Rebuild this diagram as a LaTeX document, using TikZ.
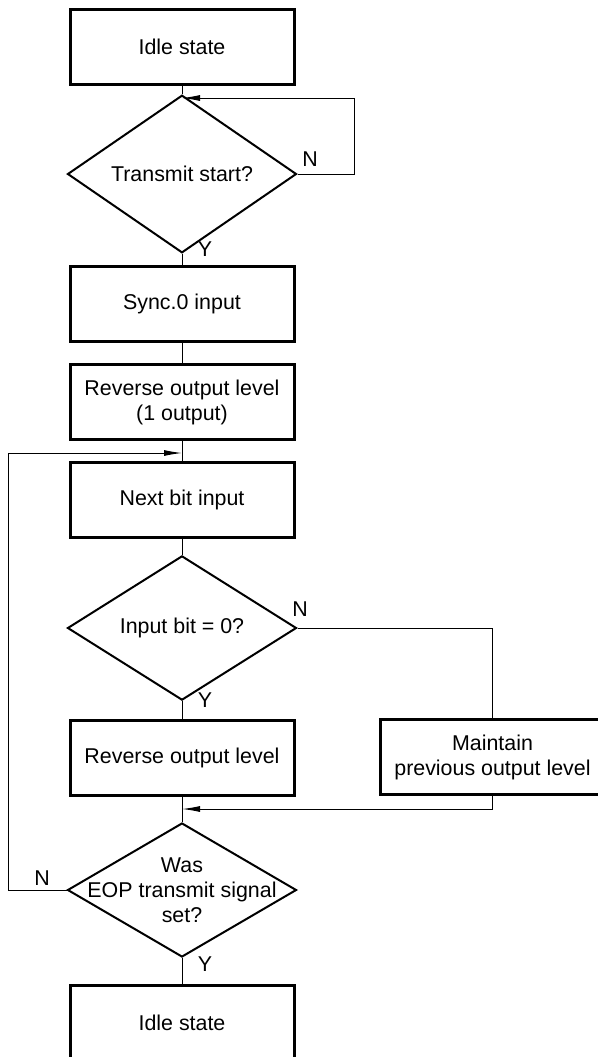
\documentclass[tikz,border=0pt]{standalone}
\usepackage{fontspec}
\setmainfont{Liberation Sans}
\usetikzlibrary{shapes.geometric,arrows.meta}
\begin{document}
\begin{tikzpicture}[x=0.5pt, y=-0.5pt, >={Latex[length=9pt,width=3pt]},
		every node/.style={font=\fontsize{10.7}{12.5}\selectfont},
		box/.style={draw, line width=1.5pt, minimum width=112pt, minimum height=37.5pt, align=center, inner sep=0pt},
		decision/.style={draw, diamond, line width=1pt, minimum width=114.5pt, minimum height=67pt, inner sep=0pt, align=center},
		link/.style={line width=0.5pt}]
		\clip (0,0) rectangle (598,1057);
		\node[box] (idle1) at (182,46.5) {Idle state};
		\node[decision] (start) at (182,174) {Transmit start?};
		\node[box] (sync) at (182,303.5) {Sync.0 input};
		\node[box] (rev1) at (182,402) {Reverse output level\\(1 output)};
		\node[box] (next) at (182,500) {Next bit input};
		\node[decision] (bit) at (182,628) {Input bit = 0?};
		\node[box] (rev) at (182,757.5) {Reverse output level};
		\node[box] (keep) at (492.5,757) {Maintain\\previous output level};
		\node[decision, label={[align=center]center:Was\\EOP transmit signal\\set?}] (eop) at (182,890) {};
		\node[box] (idle2) at (182,1022.5) {Idle state};
		\node (n1) at (310,159) {N};
		\node (y1) at (205,249) {Y};
		\node (n2) at (300,609) {N};
		\node (y2) at (205,700) {Y};
		\node (n3) at (42,878) {N};
		\node (y3) at (205,964) {Y};
		\coordinate (j1) at (182,98);
		\coordinate (j2) at (182,453);
		\coordinate (j3) at (182,809);
		\draw[link] (idle1) -- (start);
		\draw[link,->] (start.east) -- ++(57,0) |- (j1);
		\draw[link] (start) -- (sync);
		\draw[link] (sync) -- (rev1);
		\draw[link] (rev1) -- (next);
		\draw[link] (next) -- (bit);
		\draw[link] (bit) -- (rev);
		\draw[link] (bit.east) -| (keep.north);
		\draw[link,->] (keep.south) |- (j3);
		\draw[link] (rev) -- (eop);
		\draw[link,->] (eop.west) -- ++(-58,0) |- (j2);
		\draw[link] (eop) -- (idle2);
	\end{tikzpicture}
\end{document}
